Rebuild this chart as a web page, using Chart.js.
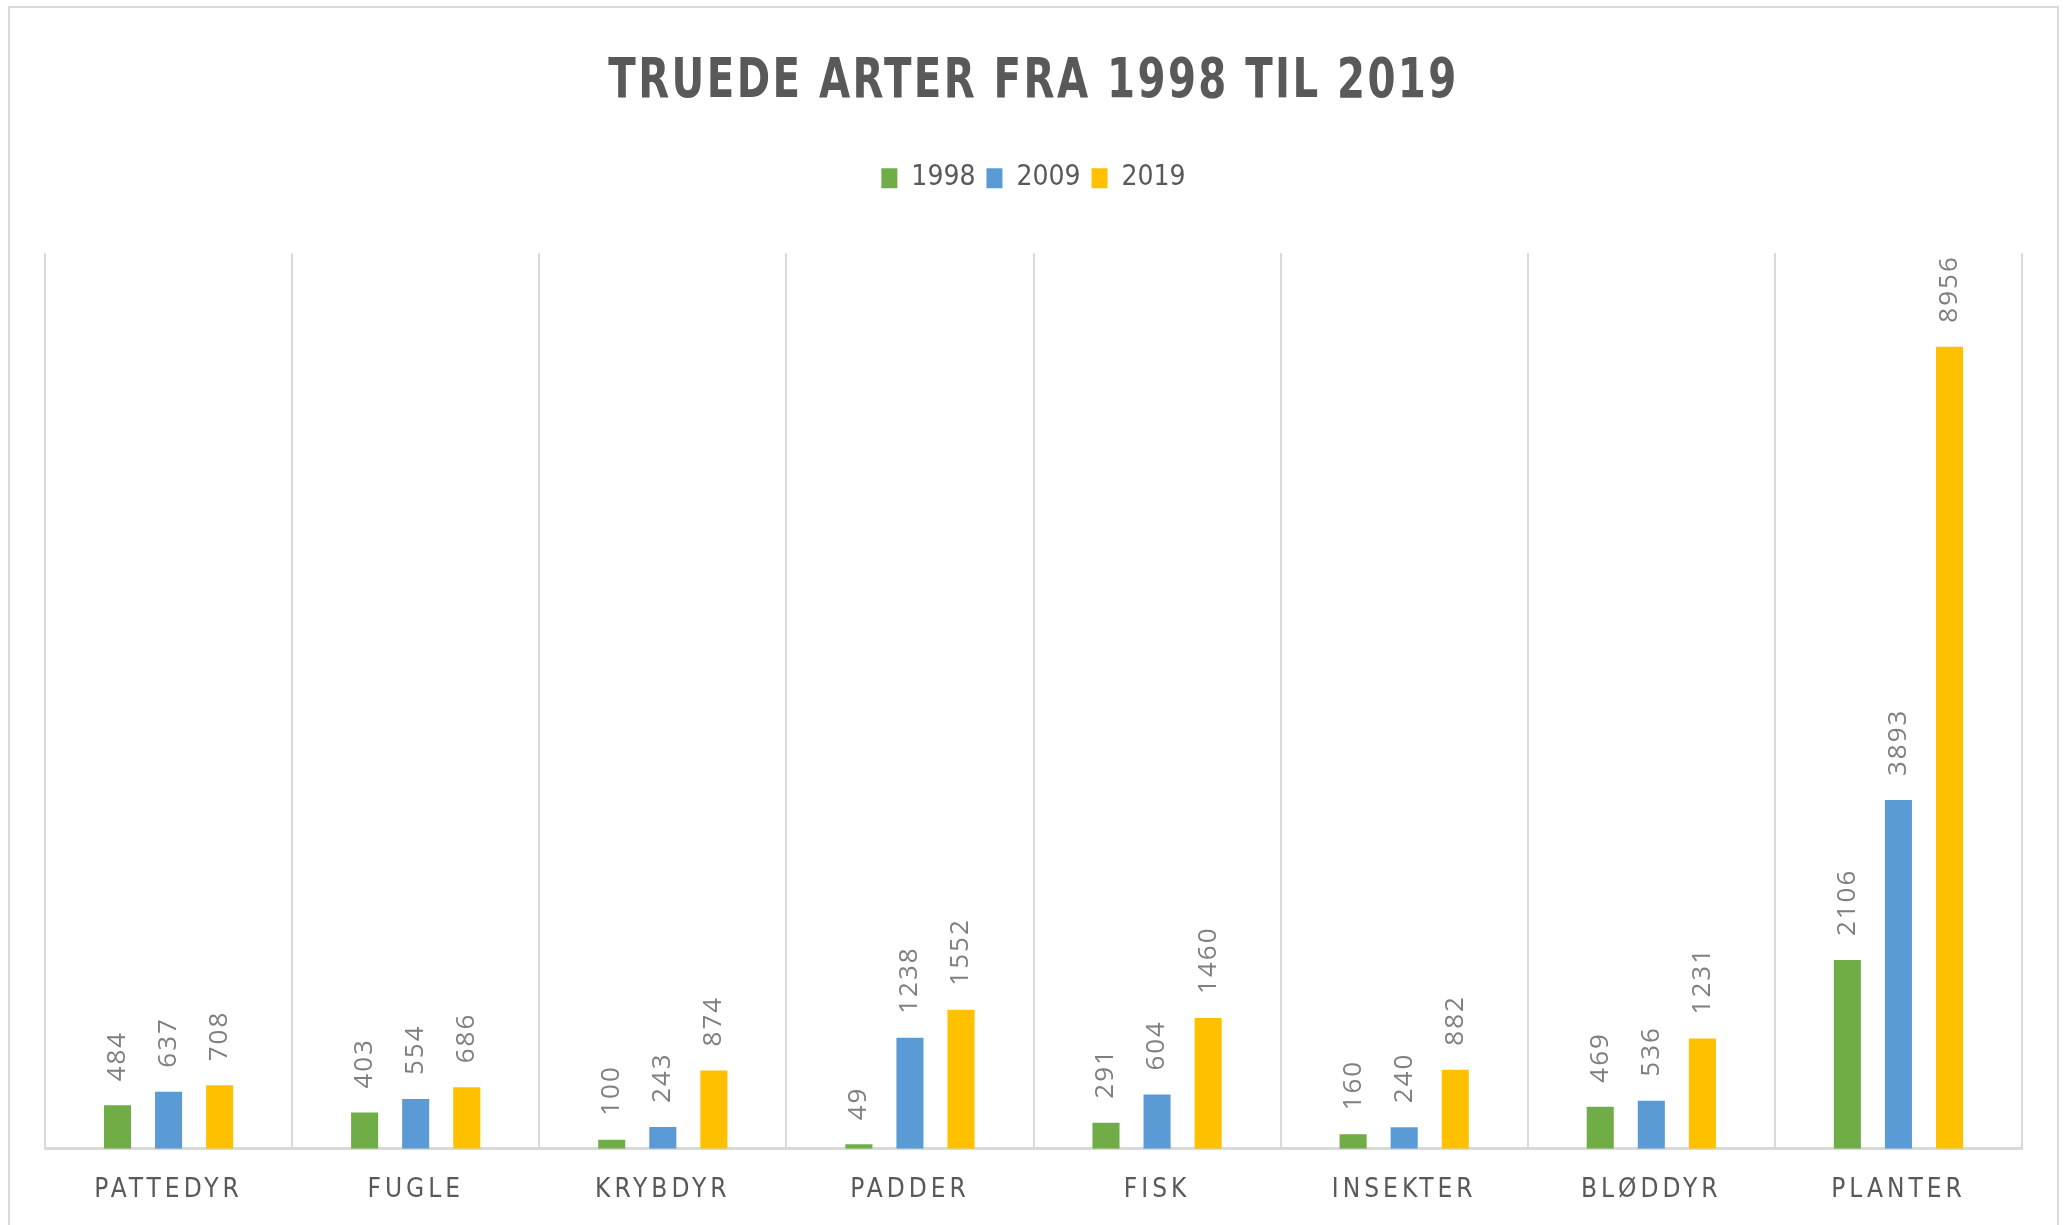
<!DOCTYPE html>
<html>
<head>
<meta charset="utf-8">
<script src="https://cdn.jsdelivr.net/npm/chart.js@4"></script>
<style>
  html, body { margin: 0; padding: 0; background: #fff; overflow: hidden; }
  #wrap { position: absolute; left: 0; top: 0; width: 2067px; height: 1225px; }
</style>
</head>
<body>
<div id="wrap"><canvas id="chart" width="2067" height="1225"></canvas></div>
<script>
const categories = ["PATTEDYR", "FUGLE", "KRYBDYR", "PADDER", "FISK", "INSEKTER", "BLØDDYR", "PLANTER"];
const years = ["1998", "2009", "2019"];
const values1998 = [484, 403, 100, 49, 291, 160, 469, 2106];
const values2009 = [637, 554, 243, 1238, 604, 240, 536, 3893];
const values2019 = [708, 686, 874, 1552, 1460, 882, 1231, 8956];
const colors = ["#70AD47", "#5B9BD5", "#FFC000"];

const FONT = "'Liberation Sans Narrow', 'DejaVu Sans Condensed', 'Open Sans', sans-serif";
const GRID = "#d9d9d9";
const TEXT = "#595959";

// letter spacing (and optional horizontal squeeze) for a drawing method of a chart.js box
function spaced(box, method, sp, sx) {
  if (!box || box["_sp_" + method]) return;
  const orig = box[method];
  box[method] = function (...args) {
    const ctx = this.ctx;
    ctx.save();
    ctx.letterSpacing = sp;
    if (sx) {
      const cx = this.chart.width / 2;
      ctx.translate(cx, 0);
      ctx.scale(sx, 1);
      ctx.translate(-cx, 0);
    }
    orig.apply(this, args);
    ctx.restore();
  };
  box["_sp_" + method] = true;
}

const framePlugin = {
  id: "frame",
  beforeInit(chart) {
    const fit = chart.legend.fit;
    chart.legend.fit = function () {
      fit.bind(chart.legend)();
      this.height += 51;
    };
  },
  afterLayout(chart) {
    spaced(chart.titleBlock, "draw", "3px", 0.8);
    spaced(chart.scales.x, "drawLabels", "4px");
  },
  beforeDraw(chart) {
    const ctx = chart.ctx;
    ctx.save();
    ctx.strokeStyle = GRID;
    ctx.lineWidth = 2;
    ctx.strokeRect(9, 7, 2049, 1300);
    ctx.restore();
  }
};

const valueLabels = {
  id: "valueLabels",
  afterDatasetsDraw(chart) {
    const ctx = chart.ctx;
    ctx.save();
    ctx.font = "26px 'Open Sans', sans-serif";
    ctx.fillStyle = "#7f7f7f";
    ctx.letterSpacing = "2px";
    ctx.textAlign = "left";
    ctx.textBaseline = "middle";
    chart.data.datasets.forEach((ds, i) => {
      chart.getDatasetMeta(i).data.forEach((bar, j) => {
        ctx.save();
        ctx.translate(bar.x, bar.y - 24);
        ctx.rotate(-Math.PI / 2);
        ctx.fillText(String(ds.data[j]), 0, 0);
        ctx.restore();
      });
    });
    ctx.restore();
  }
};

new Chart(document.getElementById("chart").getContext("2d"), {
  type: "bar",
  data: {
    labels: categories,
    datasets: [
      { label: years[0], data: values1998, backgroundColor: colors[0] },
      { label: years[1], data: values2009, backgroundColor: colors[1] },
      { label: years[2], data: values2019, backgroundColor: colors[2] }
    ]
  },
  options: {
    responsive: false,
    animation: false,
    layout: { padding: { left: 45, right: 45, top: 0, bottom: -7 } },
    datasets: {
      bar: { categoryPercentage: 0.62, barPercentage: 0.53 }
    },
    plugins: {
      title: {
        display: true,
        text: "TRUEDE ARTER FRA 1998 TIL 2019",
        color: TEXT,
        font: { family: FONT, size: 56, weight: "bold", lineHeight: 1.2 },
        padding: { top: 49, bottom: 37 }
      },
      legend: {
        labels: {
          color: TEXT,
          font: { family: FONT, size: 28 },
          boxWidth: 16,
          boxHeight: 20,
          padding: 11
        }
      },
      tooltip: { enabled: false }
    },
    scales: {
      x: {
        grid: { display: true, offset: true, color: GRID, lineWidth: 2, drawTicks: false },
        border: { display: true, color: GRID, width: 3 },
        ticks: { color: TEXT, font: { family: FONT, size: 26, lineHeight: 1.05 }, padding: 28 }
      },
      y: {
        display: false,
        min: 0,
        max: 10000
      }
    }
  },
  plugins: [framePlugin, valueLabels]
});
</script>
</body>
</html>
